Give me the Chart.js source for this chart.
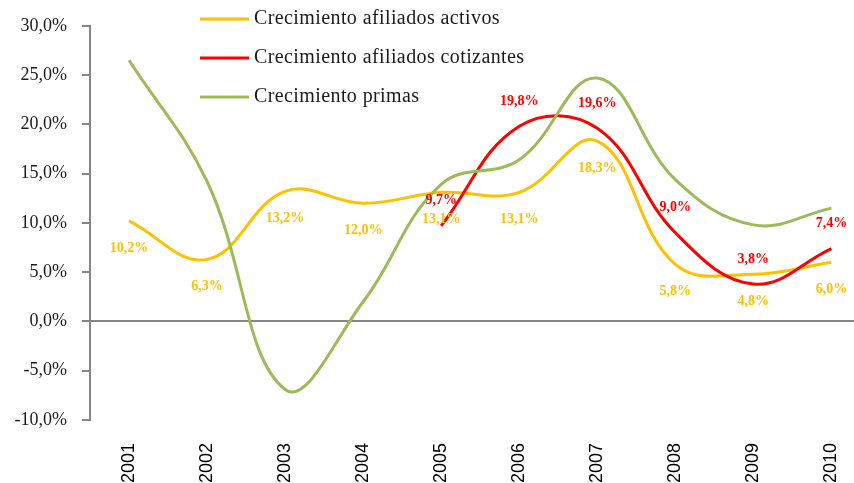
<!DOCTYPE html>
<html>
<head>
<meta charset="utf-8">
<script src="https://cdn.jsdelivr.net/npm/chart.js@4.4.0/dist/chart.umd.min.js"></script>
<style>
html, body { margin: 0; padding: 0; background: #fff; overflow: hidden; }
#wrap { position: relative; width: 876px; height: 483px; }
</style>
</head>
<body>
<div id="wrap"><canvas id="chart"></canvas></div>
<script>
const years = ['2001', '2002', '2003', '2004', '2005', '2006', '2007', '2008', '2009', '2010'];
const activos = [10.2, 6.3, 13.2, 12.0, 13.1, 13.1, 18.3, 5.8, 4.8, 6.0];
const cotizantes = [null, null, null, null, 9.7, 19.8, 19.6, 9.0, 3.8, 7.4];
const primas = [26.5, 14.2, -6.9, 2.0, 13.9, 16.4, 24.7, 14.4, 9.8, 11.5];
const seriesNames = ['Crecimiento afiliados activos', 'Crecimiento afiliados cotizantes', 'Crecimiento primas'];
const yMin = -10, yMax = 30, yStep = 5;

const fmt = v => v.toFixed(1).replace('.', ',') + '%';

// value labels: yellow under the line, red above it
const labelPlugin = {
    id: 'valueLabels',
    afterDatasetsDraw(chart) {
        const ctx = chart.ctx;
        ctx.save();
        ctx.font = 'bold 14px "Liberation Serif"';
        ctx.textAlign = 'center';
        ctx.textBaseline = 'middle';
        chart.data.datasets.forEach((ds, i) => {
            if (!ds.labelOffset) return;
            const meta = chart.getDatasetMeta(i);
            ctx.fillStyle = ds.borderColor;
            meta.data.forEach((pt, j) => {
                if (ds.data[j] == null) return;
                ctx.fillText(fmt(ds.data[j]), pt.x, pt.y + ds.labelOffset);
            });
        });
        ctx.restore();
    }
};

// legend drawn inside the plot, like the original
const legendPlugin = {
    id: 'insideLegend',
    afterDraw(chart) {
        const ctx = chart.ctx;
        ctx.save();
        ctx.font = '20px "Liberation Serif"';
        ctx.letterSpacing = '0.4px';
        ctx.textBaseline = 'middle';
        chart.data.datasets.forEach((ds, i) => {
            const y = 19 + i * 39;
            ctx.strokeStyle = ds.borderColor;
            ctx.lineWidth = 3;
            ctx.beginPath();
            ctx.moveTo(200, y);
            ctx.lineTo(249, y);
            ctx.stroke();
            ctx.fillStyle = '#1a1a1a';
            ctx.fillText(ds.label, 254, y);
        });
        ctx.restore();
    }
};

new Chart(document.getElementById('chart'), {
    type: 'line',
    data: {
        labels: years,
        datasets: [
            { label: seriesNames[0], data: activos, borderColor: '#FFC000', borderWidth: 3, labelOffset: 27, order: 3 },
            { label: seriesNames[1], data: cotizantes, borderColor: '#FF0000', borderWidth: 3, labelOffset: -25, order: 2 },
            { label: seriesNames[2], data: primas, borderColor: '#9BBB59', borderWidth: 3, order: 1 }
        ]
    },
    options: {
        responsive: true,
        maintainAspectRatio: false,
        animation: false,
        layout: { padding: { top: 23, right: 0, bottom: 0, left: 0 } },
        elements: {
            point: { radius: 0 },
            line: { tension: 0.4, fill: false }
        },
        plugins: {
            legend: { display: false },
            tooltip: { enabled: false }
        },
        scales: {
            x: {
                offset: true,
                afterFit(scale) { scale.height = 63; },
                grid: { display: false, drawTicks: false },
                border: { display: false },
                ticks: {
                    minRotation: 90,
                    maxRotation: 90,
                    autoSkip: false,
                    padding: 23,
                    color: '#000',
                    font: { family: '"Liberation Sans"', size: 18 }
                }
            },
            y: {
                min: yMin,
                max: yMax,
                afterFit(scale) { scale.width = 90; },
                border: { display: true, color: '#868686', width: 2 },
                grid: {
                    drawOnChartArea: true,
                    color: c => c.tick && c.tick.value === 0 ? '#868686' : 'rgba(0,0,0,0)',
                    lineWidth: 2,
                    tickColor: '#868686',
                    tickLength: 8
                },
                ticks: {
                    stepSize: yStep,
                    padding: 15,
                    color: '#1a1a1a',
                    font: { family: '"Liberation Serif"', size: 18 },
                    callback: v => fmt(v)
                }
            }
        }
    },
    plugins: [labelPlugin, legendPlugin]
});
</script>
</body>
</html>
